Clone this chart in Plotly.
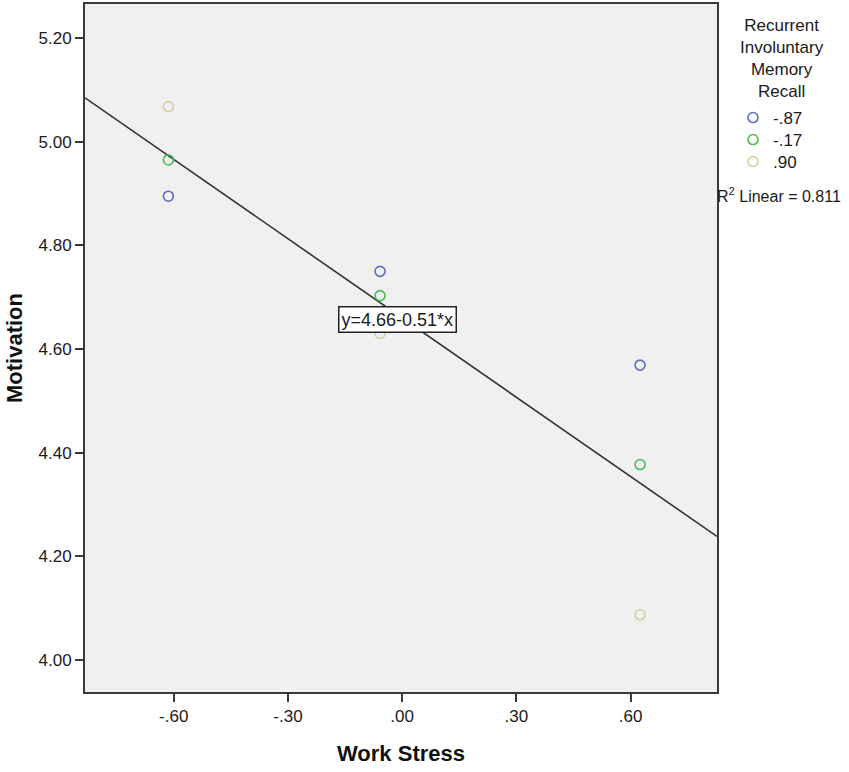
import plotly.graph_objects as go

# ---- data ----
work_stress = [-0.614, -0.058, 0.625]
groups = ["-.87", "-.17", ".90"]
motivation = {
    "-.87": [4.895, 4.750, 4.569],
    "-.17": [4.965, 4.703, 4.377],
    ".90": [5.068, 4.630, 4.087],
}
colors = {"-.87": "#5a6bc2", "-.17": "#47bf4f", ".90": "#d6cf9e"}
intercept = 4.66
slope = -0.51
r2 = 0.811
x_range = [-0.833, 0.827]
y_range = [3.938, 5.266]
x_ticks = [-0.6, -0.3, 0.0, 0.3, 0.6]
x_ticklabels = ["-.60", "-.30", ".00", ".30", ".60"]
y_ticks = [4.0, 4.2, 4.4, 4.6, 4.8, 5.0, 5.2]
y_ticklabels = ["4.00", "4.20", "4.40", "4.60", "4.80", "5.00", "5.20"]
legend_title = "Recurrent<br>Involuntary<br>Memory<br>Recall"

FONT = "Arial, Liberation Sans, sans-serif"
W, H = 849, 772
ML, MR, MT, MB = 85, 132, 4, 80
PW, PH = W - ML - MR, H - MT - MB


def px_x(p):
    return (p - ML) / PW


def px_y(p):
    return 1 - (p - MT) / PH


fig = go.Figure()

# regression line
fig.add_trace(go.Scatter(
    x=x_range, y=[intercept + slope * x for x in x_range],
    mode="lines", line=dict(color="#333333", width=1.6),
    showlegend=False, hoverinfo="skip"))

legend_names = ["legend", "legend2", "legend3"]
legend_rows = [118, 140, 162]
for g, lg in zip(groups, legend_names):
    fig.add_trace(go.Scatter(
        x=work_stress, y=motivation[g], mode="markers", name=g, legend=lg,
        marker=dict(symbol="circle-open", size=10, color=colors[g],
                    line=dict(width=1.6, color=colors[g]))))

legend_common = dict(xanchor="left", yanchor="middle", font=dict(size=17),
                     itemwidth=30, bgcolor="rgba(0,0,0,0)", borderwidth=0)
layout_legends = {}
for lg, row in zip(legend_names, legend_rows):
    layout_legends[lg] = dict(x=px_x(733), y=px_y(row), **legend_common)

fig.update_layout(
    width=W, height=H,
    margin=dict(l=ML, r=MR, t=MT, b=MB),
    paper_bgcolor="white", plot_bgcolor="#f0f0f0",
    font=dict(family=FONT, size=17, color="#1a1a1a"),
    **layout_legends,
)

fig.update_xaxes(
    range=x_range, tickvals=x_ticks, ticktext=x_ticklabels, automargin=False,
    showgrid=False, zeroline=False, showline=True, linecolor="#3a3a3a",
    linewidth=2, mirror=True, ticks="outside", ticklen=8, tickwidth=2,
    tickcolor="#3a3a3a", tickfont=dict(size=17),
    title=dict(text="<b>Work Stress</b>", font=dict(size=22, color="#111"), standoff=20))
fig.update_yaxes(
    range=y_range, tickvals=y_ticks, ticktext=y_ticklabels, automargin=False,
    showgrid=False, zeroline=False, showline=True, linecolor="#3a3a3a",
    linewidth=2, mirror=True, ticks="outside", ticklen=8, tickwidth=2,
    tickcolor="#3a3a3a", tickfont=dict(size=17),
    title=dict(text="<b>Motivation</b>", font=dict(size=22, color="#111"), standoff=10))

# legend title
fig.add_annotation(
    x=px_x(782), y=px_y(14), xref="paper", yref="paper", showarrow=False,
    text=legend_title, font=dict(size=17, color="#1a1a1a"), align="center",
    xanchor="center", yanchor="top")

# equation label
fig.add_annotation(
    x=-0.013, y=4.657, xref="x", yref="y",
    text=f"y={intercept:.2f}{slope:.2f}*x", showarrow=False,
    font=dict(size=18, color="#1a1a1a"), bgcolor="white",
    bordercolor="#222", borderwidth=1.5, borderpad=2)

# R^2 label
fig.add_annotation(
    x=px_x(715), y=px_y(195), xref="paper", yref="paper",
    xanchor="left", yanchor="middle",
    text=f"R<sup>2</sup> Linear = {r2:.3f}", showarrow=False,
    font=dict(size=16, color="#1a1a1a"))

fig.write_html("out.html", config={"displayModeBar": False},
               post_script="document.body.style.margin='0px';")
